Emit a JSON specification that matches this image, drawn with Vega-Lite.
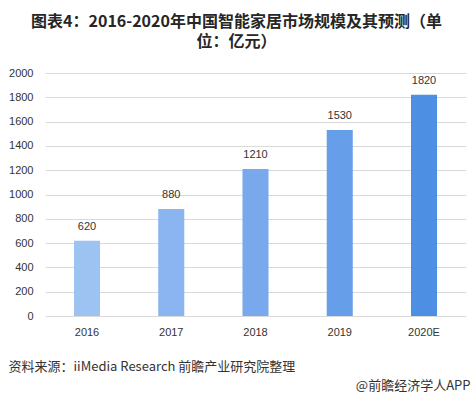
{
  "$schema": "https://vega.github.io/schema/vega-lite/v6.json",
  "autosize": "none",
  "width": 421,
  "height": 243,
  "padding": {"left": 45, "top": 73, "right": 6, "bottom": 83},
  "background": "white",
  "config": {"view": {"stroke": null}, "font": "Noto Sans CJK SC"},
  "title": {
    "text": ["图表4：2016-2020年中国智能家居市场规模及其预测（单", "位：亿元）"],
    "font": "Noto Sans CJK SC",
    "fontSize": 16,
    "fontWeight": "bold",
    "color": "#262626",
    "anchor": "middle",
    "dx": -19,
    "offset": 17,
    "lineHeight": 20
  },
  "data": {
    "values": [
      {"year": "2016", "value": 620},
      {"year": "2017", "value": 880},
      {"year": "2018", "value": 1210},
      {"year": "2019", "value": 1530},
      {"year": "2020E", "value": 1820}
    ]
  },
  "encoding": {
    "x": {
      "field": "year",
      "type": "ordinal",
      "sort": null,
      "scale": {"paddingInner": 0.691, "paddingOuter": 0.344},
      "axis": {
        "title": "资料来源：iiMedia Research  前瞻产业研究院整理",
        "titleFont": "Noto Sans CJK SC",
        "titleFontSize": 13,
        "titleFontWeight": "normal",
        "titleColor": "#333333",
        "titleAnchor": "start",
        "titleAlign": "left",
        "titleBaseline": "middle",
        "titleX": -37,
        "titleY": 50,
        "labelAngle": 0,
        "labelFont": "Liberation Sans",
        "labelFontSize": 11,
        "labelColor": "#333333",
        "labelPadding": 10,
        "ticks": false,
        "domain": false
      }
    },
    "y": {
      "field": "value",
      "type": "quantitative",
      "scale": {"domain": [0, 2000], "nice": false},
      "axis": {
        "values": [0, 200, 400, 600, 800, 1000, 1200, 1400, 1600, 1800, 2000],
        "format": "d",
        "title": "@前瞻经济学人APP",
        "titleFont": "Noto Sans CJK SC",
        "titleFontSize": 13,
        "titleFontWeight": "normal",
        "titleColor": "#333333",
        "titleAngle": 0,
        "titleAlign": "right",
        "titleBaseline": "middle",
        "titleX": 425,
        "titleY": 312,
        "labelFont": "Liberation Sans",
        "labelFontSize": 11,
        "labelColor": "#333333",
        "labelPadding": 12,
        "ticks": false,
        "domain": false,
        "gridColor": "#d9d9d9",
        "gridWidth": 1
      }
    }
  },
  "layer": [
    {
      "mark": {"type": "bar"},
      "encoding": {
        "color": {
          "field": "year",
          "type": "nominal",
          "scale": {
            "domain": ["2016", "2017", "2018", "2019", "2020E"],
            "range": ["#9dc3f3", "#8bb5f0", "#79a9ec", "#669ee9", "#4d8fe3"]
          },
          "legend": null
        }
      }
    },
    {
      "mark": {"type": "text", "baseline": "middle", "dy": -14, "font": "Liberation Sans", "fontSize": 11, "color": "#333333"},
      "encoding": {"text": {"field": "value", "type": "quantitative"}}
    }
  ]
}
